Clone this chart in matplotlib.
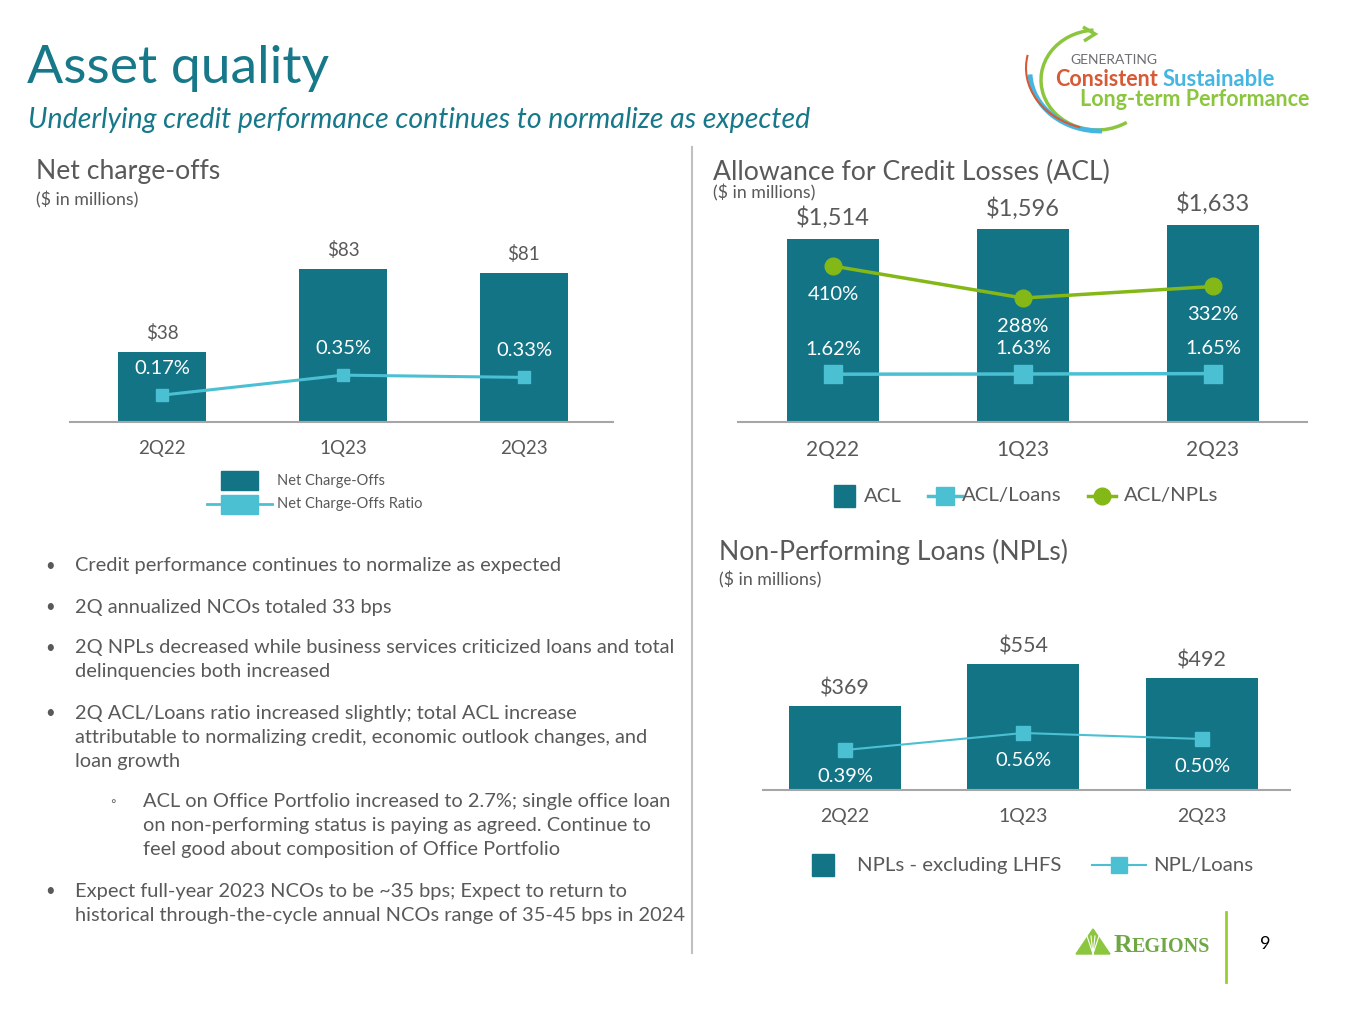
import matplotlib
matplotlib.use('Agg')
import matplotlib.pyplot as plt
from matplotlib.patches import Rectangle, Arc, Polygon

plt.rcParams['font.family'] = ['Lato', 'DejaVu Sans']

W, H = 1365, 1024

quarters = ['2Q22', '1Q23', '2Q23']
nco = [38, 83, 81]
nco_ratio = [0.17, 0.35, 0.33]
acl = [1514, 1596, 1633]
acl_loans = [1.62, 1.63, 1.65]
acl_npls = [410, 288, 332]
npl = [369, 554, 492]
npl_loans = [0.39, 0.56, 0.50]

bullets = [
    (0, ['Credit performance continues to normalize as expected']),
    (0, ['2Q annualized NCOs totaled 33 bps']),
    (0, ['2Q NPLs decreased while business services criticized loans and total',
         'delinquencies both increased']),
    (0, ['2Q ACL/Loans ratio increased slightly; total ACL increase',
         'attributable to normalizing credit, economic outlook changes, and',
         'loan growth']),
    (1, ['ACL on Office Portfolio increased to 2.7%; single office loan',
         'on non-performing status is paying as agreed. Continue to',
         'feel good about composition of Office Portfolio']),
    (0, ['Expect full-year 2023 NCOs to be ~35 bps; Expect to return to',
         'historical through-the-cycle annual NCOs range of 35-45 bps in 2024']),
]

TEAL = '#137486'
LBLUE = '#4cc0d3'
GREEN = '#84b817'
GREY = '#595959'
AXGREY = '#a6a6a6'

fig = plt.figure(figsize=(W / 100, H / 100), dpi=100)

# full-page overlay in pixel coordinates for slide text and decorations
page = fig.add_axes([0, 0, 1, 1], zorder=0)
page.set_xlim(0, W)
page.set_ylim(H, 0)
page.axis('off')


def chart_axes(left, right, top, bottom):
    ax = fig.add_axes([left / W, 1 - bottom / H, (right - left) / W, (bottom - top) / H], zorder=2)
    ax.patch.set_alpha(0)
    for s in ['top', 'right', 'left']:
        ax.spines[s].set_visible(False)
    ax.spines['bottom'].set_color(AXGREY)
    ax.spines['bottom'].set_linewidth(1.5)
    ax.set_yticks([])
    return ax


def twin(ax, z):
    t = ax.twinx()
    t.set_axis_off()
    t.set_zorder(z)
    return t


x = list(range(3))

# --- Net charge-offs
ax1 = chart_axes(70, 613, 230, 422)
ax1.bar(x, nco, width=0.486, color=TEAL)
ax1.set_xlim(-0.508, 2.492)
ax1.set_ylim(0, 104.3)
ax1.set_xticks(x, quarters)
ax1.tick_params(axis='x', length=0, pad=13, labelsize=13.5, labelcolor=GREY)
for i, v in enumerate(nco):
    ax1.annotate(f'${v}', (i, v), xytext=(0, 19), textcoords='offset pixels',
                 ha='center', va='center', fontsize=13.5, color=GREY)
r1 = twin(ax1, 3)
r1.plot(x, nco_ratio, color=LBLUE, lw=2.2, marker='s', ms=8.5)
r1.set_ylim(-0.072, 1.658)
for i, v in enumerate(nco_ratio):
    r1.annotate(f'{v:.2f}%', (i, v), xytext=(0, 27), textcoords='offset pixels',
                ha='center', va='center', fontsize=14.5, color='white')

# --- ACL
ax2 = chart_axes(738, 1307, 200, 422)
ax2.bar(x, acl, width=0.484, color=TEAL)
ax2.set_xlim(-0.5, 2.495)
ax2.set_ylim(0, 1836)
ax2.set_xticks(x, quarters)
ax2.tick_params(axis='x', length=0, pad=13, labelsize=15, labelcolor=GREY)
for i, v in enumerate(acl):
    ax2.annotate(f'${v:,}', (i, v), xytext=(0, 21), textcoords='offset pixels',
                 ha='center', va='center', fontsize=17, color=GREY)
g2 = twin(ax2, 3)
g2.plot(x, acl_npls, color=GREEN, lw=2.5, marker='o', ms=12)
g2.set_ylim(-185, 662)
for i, v in enumerate(acl_npls):
    g2.annotate(f'{v}%', (i, v), xytext=(0, -28), textcoords='offset pixels',
                ha='center', va='center', fontsize=14.5, color='white')
b2 = twin(ax2, 4)
b2.plot(x, acl_loans, color=LBLUE, lw=2.5, marker='s', ms=12.5)
b2.set_ylim(-0.77, 10.33)
for i, v in enumerate(acl_loans):
    b2.annotate(f'{v:.2f}%', (i, v), xytext=(0, 25), textcoords='offset pixels',
                ha='center', va='center', fontsize=14.5, color='white')

# --- NPLs
ax3 = chart_axes(763, 1290, 610, 790)
ax3.bar(x, npl, width=0.627, color=TEAL)
ax3.set_xlim(-0.459, 2.493)
ax3.set_ylim(0, 791.6)
ax3.set_xticks(x, quarters)
ax3.tick_params(axis='x', length=0, pad=13, labelsize=14, labelcolor=GREY)
for i, v in enumerate(npl):
    ax3.annotate(f'${v}', (i, v), xytext=(0, 18), textcoords='offset pixels',
                 ha='center', va='center', fontsize=15.5, color=GREY)
r3 = twin(ax3, 3)
r3.plot(x, npl_loans, color=LBLUE, lw=1.5, marker='s', ms=10)
r3.set_ylim(-0.01, 1.79)
for i, v in enumerate(npl_loans):
    r3.annotate(f'{v:.2f}%', (i, v), xytext=(0, -27), textcoords='offset pixels',
                ha='center', va='center', fontsize=14.5, color='white')

# --- page header
page.text(27, 68, 'Asset quality', fontsize=38.5, color='#17788a', va='center')
page.text(28, 120, 'Underlying credit performance continues to normalize as expected',
          fontsize=20.5, style='italic', color='#17788a', va='center')

# section titles
for tx, ty, title, sy in [(36, 172, 'Net charge-offs', 200),
                          (713, 172, 'Allowance for Credit Losses (ACL)', 193),
                          (719, 552, 'Non-Performing Loans (NPLs)', 580)]:
    page.text(tx, ty, title, fontsize=19.2, color=GREY, va='center')
    page.text(tx, sy, '($ in millions)', fontsize=12.8, color=GREY, va='center')

# separator
page.plot([692, 692], [147, 953], color='#c0c0c0', lw=1.5)

# legends
page.add_patch(Rectangle((221, 471), 37, 19, color=TEAL))
page.text(277, 481, 'Net Charge-Offs', fontsize=10.5, color=GREY, va='center')
page.plot([207, 272], [504, 504], color=LBLUE, lw=2)
page.add_patch(Rectangle((221, 495), 37, 19, color=LBLUE))
page.text(277, 504, 'Net Charge-Offs Ratio', fontsize=10.5, color=GREY, va='center')

page.add_patch(Rectangle((834, 485), 21, 22, color=TEAL))
page.text(864, 496, 'ACL', fontsize=14.7, color=GREY, va='center')
page.plot([928, 962], [496, 496], color=LBLUE, lw=2.5)
page.plot([945], [496], marker='s', ms=13, color=LBLUE)
page.text(962, 496, 'ACL/Loans', fontsize=14.7, color=GREY, va='center')
page.plot([1088, 1116], [496, 496], color=GREEN, lw=2.5)
page.plot([1102], [496], marker='o', ms=12, color=GREEN)
page.text(1124, 496, 'ACL/NPLs', fontsize=14.7, color=GREY, va='center')

page.add_patch(Rectangle((812, 854), 22, 22, color=TEAL))
page.text(857, 865, 'NPLs - excluding LHFS', fontsize=14.7, color=GREY, va='center')
page.plot([1092, 1146], [865, 865], color=LBLUE, lw=1.5)
page.plot([1119], [865], marker='s', ms=12, color=LBLUE)
page.text(1153, 865, 'NPL/Loans', fontsize=14.7, color=GREY, va='center')

# bullets
y = 566
for level, lines in bullets:
    if level == 0:
        page.text(45, y, '\u2022', fontsize=12, color=GREY, va='center')
        tx = 75
    else:
        page.text(110, y, '\u25e6', fontsize=10, color=GREY, va='center')
        tx = 143
    for line in lines:
        page.text(tx, y, line, fontsize=14.4, color=GREY, va='center')
        y += 24
    y += 17

# top-right logo (y axis of the page is inverted, so angles run clockwise on screen)
page.add_patch(Arc((1097, 80), 112, 100, theta1=55, theta2=266, color='#8cc63f', lw=2.5))
page.add_patch(Polygon([(1083, 27), (1095, 34), (1084, 41)], closed=False, fill=False,
                       edgecolor='#8cc63f', lw=2.5))
page.add_patch(Arc((1100, 72), 140, 118, theta1=88, theta2=178, color='#45b6e2', lw=3.5))
page.add_patch(Arc((1102, 68), 152, 124, theta1=110, theta2=190, color='#d65a35', lw=1.5))
page.text(1070, 60, 'GENERATING', fontsize=10, color='#6d6e71', va='center')
page.text(1055, 79, 'Consistent', fontsize=15.5, fontweight='bold', color='#d65a35', va='center')
page.text(1163, 79, 'Sustainable', fontsize=15.8, fontweight='bold', color='#45b6e2', va='center')
page.text(1080, 100, 'Long-term Performance', fontsize=15.5, fontweight='bold', color='#8cc63f', va='center')

# bottom-right logo
page.add_patch(Polygon([(1076, 954), (1093, 929), (1110, 954)], color='#8cc63f'))
for dx in (-6, -2, 2, 6):
    page.plot([1093, 1093 + dx], [954, 936], color='white', lw=0.8)
page.text(1114, 945, 'R', fontsize=18.5, family='Liberation Serif', fontweight='bold',
          color='#6fa843', va='center')
page.text(1132, 947, 'EGIONS', fontsize=14.5, family='Liberation Serif', fontweight='bold',
          color='#6fa843', va='center')
page.plot([1226, 1226], [912, 982], color='#9acd32', lw=2)
page.text(1260, 944, '9', fontsize=13, color='black', va='center')

fig.savefig('out.png', dpi=100)
